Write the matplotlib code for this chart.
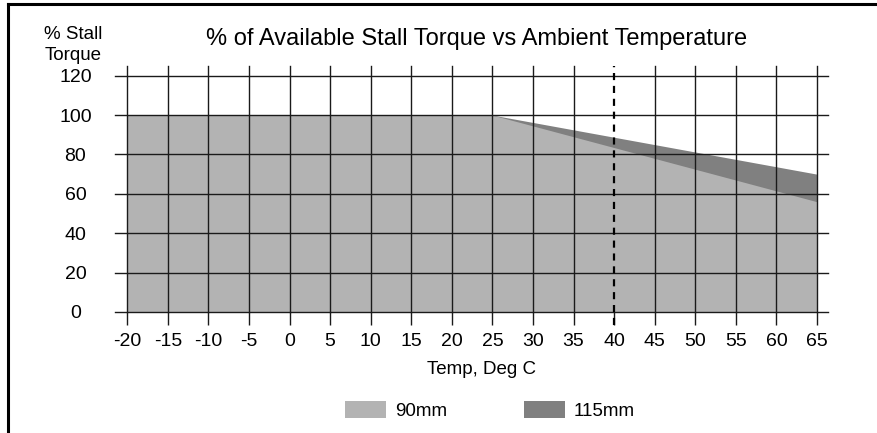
import matplotlib
matplotlib.use("Agg")
import matplotlib.pyplot as plt
from matplotlib.lines import Line2D

plt.rcParams['font.family'] = ['Liberation Sans', 'DejaVu Sans']

# Data
temp = [-20, 25, 65]
torque_90mm = [100, 100, 56]
torque_115mm = [100, 100, 70]
x_ticks = list(range(-20, 70, 5))
y_ticks = list(range(0, 140, 20))
ref_temp = 40
title = "% of Available Stall Torque vs Ambient Temperature"
xlabel = "Temp, Deg C"
ylabel = "% Stall\nTorque"
series_names = ["90mm", "115mm"]

W, H = 878, 433
fig = plt.figure(figsize=(W / 100, H / 100), dpi=100)
ax = fig.add_axes([127.3 / W, 1 - 312 / H, (817 - 127.3) / W, (312 - 75.7) / H])

c90 = '#b3b3b3'
c115 = '#808080'
h115 = ax.fill_between(temp, 0, torque_115mm, color=c115, lw=0, zorder=1, label=series_names[1])
h90 = ax.fill_between(temp, 0, torque_90mm, color=c90, lw=0, zorder=2, label=series_names[0])

ax.set_xlim(x_ticks[0], x_ticks[-1])
ax.set_ylim(y_ticks[0], y_ticks[-1])
for s in ax.spines.values():
    s.set_visible(False)

gcol = '#1a1a1a'
glw = 1.0
ext_l = 12 / (817 - 127.3)
ext_r = 11 / (817 - 127.3)
ext_t = 10 / (312 - 75.7)
for y in y_ticks:
    ax.axhline(y, xmin=-ext_l, xmax=1 + ext_r, color=gcol, lw=glw, clip_on=False, zorder=3)
for x in x_ticks:
    if x == ref_temp:
        continue
    ax.axvline(x, ymin=0, ymax=1 + ext_t, color=gcol, lw=glw, clip_on=False, zorder=3)

ax.axvline(ref_temp, ymin=-13 / 236.3, ymax=1 + ext_t, color='black', lw=1.6,
           ls=(0, (3.2, 2.6)), clip_on=False, zorder=4)

ax.set_xticks(x_ticks)
ax.set_xticklabels([str(v) for v in x_ticks])
ax.set_yticks(y_ticks)
ax.set_yticklabels([str(v) for v in y_ticks])
ax.tick_params(axis='x', direction='out', length=9.4, width=glw, color=gcol, pad=6, labelsize=14)
ax.tick_params(axis='y', length=0, pad=0, labelsize=14)
for lab in ax.get_yticklabels():
    lab.set_horizontalalignment('center')
ax.yaxis.set_tick_params(pad=(127.3 - 75.5) * 72 / 100)

fig.text(477 / W, 1 - 38.5 / H, title, ha='center', va='center', fontsize=17)
fig.text(73 / W, 1 - 45 / H, ylabel, ha='center', va='center', fontsize=13.5, linespacing=1.3)
fig.text(482 / W, 1 - 369.5 / H, xlabel, ha='center', va='center', fontsize=13.5)

leg = fig.legend([h90, h115], series_names, loc='center', bbox_to_anchor=(490 / W, 1 - 410.5 / H),
                 ncol=2, frameon=False, fontsize=13.5, handlelength=2.2, handleheight=1.0,
                 handletextpad=0.45, columnspacing=4.1, borderpad=0, borderaxespad=0)

# Outer frame (left and top edges)
fig.add_artist(Line2D([8 / W, 8 / W], [0, 1 - 4 / H], color='black', lw=2.2, transform=fig.transFigure))
fig.add_artist(Line2D([8 / W, 1], [1 - 4 / H, 1 - 4 / H], color='black', lw=2.2, transform=fig.transFigure))

fig.savefig('out.png', dpi=100)
